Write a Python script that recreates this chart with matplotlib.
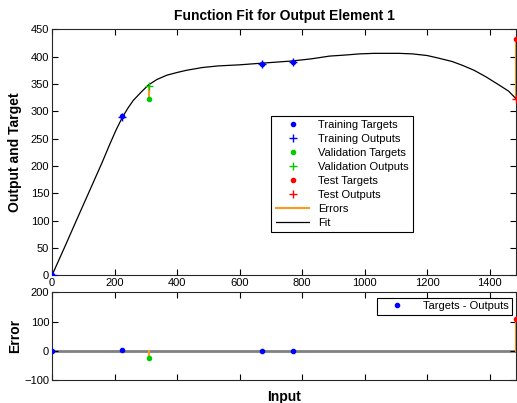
import matplotlib
matplotlib.use("Agg")
import matplotlib.pyplot as plt
from matplotlib.lines import Line2D

plt.rcParams["font.family"] = ["Liberation Sans", "DejaVu Sans"]

# values
train_x = [0, 225, 672, 770]
train_target = [0, 291, 386, 391]
train_output = [0, 289, 386, 391]
val_x = [310]
val_target = [323]
val_output = [347]
test_x = [1484]
test_target = [433]
test_output = [323]

fit_x = [0, 40, 80, 122, 160, 185, 205, 225, 243, 260, 285, 308, 335, 367, 400,
         430, 480, 531, 600, 670, 767, 830, 888, 940, 983, 1030, 1068, 1110,
         1153, 1200, 1238, 1280, 1313, 1350, 1388, 1430, 1460, 1484]
fit_y = [0, 51, 103, 157, 206, 240, 266, 289, 306, 320, 335, 348, 358, 366, 371,
         375, 380, 383, 385, 388, 392, 396, 401, 403, 405, 406, 406, 406,
         405, 402, 397, 391, 384, 375, 363, 348, 337, 323]

x_ticks = [0, 200, 400, 600, 800, 1000, 1200, 1400]

blue = (0, 0, 1)
green = (0, 0.8, 0)
red = (1, 0, 0)
orange = (1, 0.6, 0.1)

fig = plt.figure(figsize=(5.17, 4.03), dpi=100)
ax = fig.add_axes([0.1006, 0.3169, 0.8975, 0.6104])
ax2 = fig.add_axes([0.1006, 0.0571, 0.8975, 0.2176])

# errors (target -> output)
for xs, ts, os_ in [(train_x, train_target, train_output),
                    (val_x, val_target, val_output),
                    (test_x, test_target, test_output)]:
    for x, t, o in zip(xs, ts, os_):
        ax.plot([x, x], [t, o], color=orange, lw=1.5, zorder=2)

ax.plot(fit_x, fit_y, color="black", lw=0.9, zorder=3)
ax.plot(train_x, train_target, ".", color=blue, ms=6, zorder=4)
ax.plot(train_x, train_output, "+", color=blue, ms=6, mew=1, zorder=4)
ax.plot(val_x, val_target, ".", color=green, ms=6, zorder=4)
ax.plot(val_x, val_output, "+", color=green, ms=6, mew=1, zorder=4)
ax.plot(test_x, test_target, ".", color=red, ms=6, zorder=4)
ax.plot(test_x, test_output, "+", color=red, ms=6, mew=1, zorder=4)

ax.set_xlim(0, 1484)
ax.set_ylim(0, 450)
ax.set_xticks(x_ticks)
ax.set_yticks(range(0, 451, 50))
ax.set_title("Function Fit for Output Element 1", fontsize=10, fontweight="bold", pad=7)

handles = [
    Line2D([], [], ls="none", marker=".", ms=6, color=blue),
    Line2D([], [], ls="none", marker="+", ms=6, color=blue),
    Line2D([], [], ls="none", marker=".", ms=6, color=green),
    Line2D([], [], ls="none", marker="+", ms=6, color=green),
    Line2D([], [], ls="none", marker=".", ms=6, color=red),
    Line2D([], [], ls="none", marker="+", ms=6, color=red),
    Line2D([], [], color=orange, lw=1.5),
    Line2D([], [], color="black", lw=0.9),
]
labels = ["Training Targets", "Training Outputs", "Validation Targets",
          "Validation Outputs", "Test Targets", "Test Outputs", "Errors", "Fit"]
leg = ax.legend(handles, labels, loc="upper left", bbox_to_anchor=(0.473, 0.648),
                fontsize=8, fancybox=False, edgecolor="black", framealpha=1,
                handlelength=3.0, labelspacing=0.35, borderpad=0.4, borderaxespad=0)
leg.get_frame().set_linewidth(0.8)

# error subplot
ax2.axhline(0, color=(0.5, 0.5, 0.5), lw=2, zorder=1)
for xs, ts, os_, c in [(train_x, train_target, train_output, blue),
                       (val_x, val_target, val_output, green),
                       (test_x, test_target, test_output, red)]:
    errs = [t - o for t, o in zip(ts, os_)]
    for x, e in zip(xs, errs):
        ax2.plot([x, x], [0, e], color=orange, lw=1.5, zorder=2)
    ax2.plot(xs, errs, ".", color=c, ms=6, zorder=4)

ax2.set_xlim(0, 1484)
ax2.set_ylim(-100, 200)
ax2.set_xticks(x_ticks)
ax2.set_xticklabels([])
ax2.set_yticks([-100, 0, 100, 200])
ax2.set_xlabel("Input", fontsize=10, fontweight="bold", labelpad=5)
leg2 = ax2.legend([Line2D([], [], ls="none", marker=".", ms=6, color=blue)],
                  ["Targets - Outputs"], loc="upper right",
                  bbox_to_anchor=(0.991, 0.935), fontsize=8, fancybox=False,
                  edgecolor="black", framealpha=1, handlelength=3.0,
                  borderpad=0.3, borderaxespad=0)
leg2.get_frame().set_linewidth(0.8)

for a in (ax, ax2):
    a.tick_params(direction="in", top=True, right=True, length=4, width=0.8,
                  labelsize=8, pad=2, colors="black")
    for s in a.spines.values():
        s.set_linewidth(0.8)
        s.set_color((0.15, 0.15, 0.15))

fig.text(15 / 517, 0.622, "Output and Target", rotation=90, ha="center", va="center",
         fontsize=10, fontweight="bold")
fig.text(15 / 517, 0.166, "Error", rotation=90, ha="center", va="center",
         fontsize=10, fontweight="bold")

fig.savefig("out.png", dpi=100)
